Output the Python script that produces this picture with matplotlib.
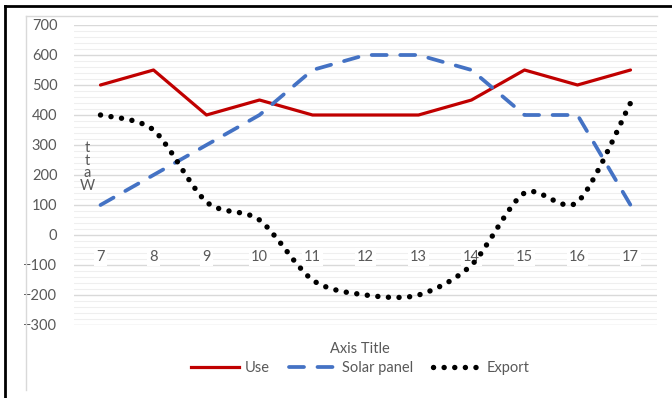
import matplotlib
matplotlib.use("Agg")
import matplotlib.pyplot as plt
from matplotlib.path import Path
from matplotlib.patches import PathPatch
from matplotlib.lines import Line2D
from matplotlib.ticker import MultipleLocator

# data
hours = [7, 8, 9, 10, 11, 12, 13, 14, 15, 16, 17]
use = [500, 550, 400, 450, 400, 400, 400, 450, 550, 500, 550]
solar = [100, 200, 300, 400, 550, 600, 600, 550, 400, 400, 100]
export = [400, 350, 110, 50, -150, -200, -200, -100, 140, 110, 440]

plt.rcParams['font.family'] = ['Lato', 'DejaVu Sans']
grey = '#595959'

fig = plt.figure(figsize=(6.72, 3.98), dpi=100)
ax = fig.add_axes([74 / 672, 1 - 325 / 398, 583 / 672, 300 / 398])

# use and solar lines
ax.plot(hours, use, color='#C00000', lw=2.3, solid_capstyle='round', zorder=3)
ax.plot(hours, solar, color='#4472C4', lw=2.7, dashes=(4, 3.6),
        dash_capstyle='round', zorder=3)

# smoothed export line (bezier through the points, like excel's smoothing)
verts = [(hours[0], export[0])]
codes = [Path.MOVETO]
n = len(hours)
k = 7.0
for i in range(n - 1):
    p0 = (hours[max(i - 1, 0)], export[max(i - 1, 0)])
    p1 = (hours[i], export[i])
    p2 = (hours[i + 1], export[i + 1])
    p3 = (hours[min(i + 2, n - 1)], export[min(i + 2, n - 1)])
    c1 = (p1[0] + (p2[0] - p0[0]) / k, p1[1] + (p2[1] - p0[1]) / k)
    c2 = (p2[0] - (p3[0] - p1[0]) / k, p2[1] - (p3[1] - p1[1]) / k)
    verts += [c1, c2, p2]
    codes += [Path.CURVE4] * 3
curve = PathPatch(Path(verts, codes), fill=False, edgecolor='black', lw=3.9,
                  linestyle=(0, (0.01, 1.95)), capstyle='round', zorder=3)
ax.add_patch(curve)

# axes setup
ax.set_xlim(6.5, 17.5)
ax.set_ylim(-300, 700)
ax.yaxis.set_major_locator(MultipleLocator(100))
ax.yaxis.set_minor_locator(MultipleLocator(20))
ax.grid(which='major', axis='y', color='#D9D9D9', lw=1)
ax.grid(which='minor', axis='y', color='#EFEFEF', lw=0.8)
ax.set_axisbelow(True)
ax.xaxis.set_zorder(1)  # x labels sit over the y gridlines
for s in ax.spines.values():
    s.set_visible(False)
ax.spines['bottom'].set_position(('data', 0))
ax.set_xticks(hours)
ax.set_xticklabels([str(h) for h in hours])
ax.tick_params(axis='x', length=0, pad=11, labelsize=10.5, colors=grey)
ax.tick_params(axis='y', which='both', length=0, pad=12, labelsize=10.5, colors=grey)
for lab in ax.get_xticklabels():
    lab.set_bbox(dict(facecolor='white', edgecolor='none', pad=1.5))

# stacked y label
fig.text(87 / 672, 1 - 167 / 398, 't\nt\na\nW', color=grey, fontsize=10.5,
         ha='center', va='center', linespacing=0.85)

fig.text(360 / 672, 1 - 349 / 398, 'Axis Title', color=grey, fontsize=10.5,
         ha='center', va='center')

handles = [
    Line2D([], [], color='#C00000', lw=2.3),
    Line2D([], [], color='#4472C4', lw=2.7, dashes=(4, 3.6), dash_capstyle='round'),
    Line2D([], [], color='black', lw=3.9, linestyle=(0, (0.01, 1.95)), dash_capstyle='round'),
]
fig.legend(handles, ['Use', 'Solar panel', 'Export'], loc='center',
           bbox_to_anchor=(360 / 672, 1 - 368 / 398), ncol=3, frameon=False,
           fontsize=10.5, handlelength=3.3, handletextpad=0.4, columnspacing=1.3,
           labelcolor=grey)

# chart frame lines
fig.add_artist(Line2D([5 / 672, 1], [1 - 6 / 398] * 2, color='black', lw=2))
fig.add_artist(Line2D([5 / 672] * 2, [0, 1 - 6 / 398], color='black', lw=2))
fig.add_artist(Line2D([26 / 672, 657 / 672], [1 - 16 / 398] * 2, color='#D9D9D9', lw=1))
fig.add_artist(Line2D([26 / 672] * 2, [1 - 390 / 398, 1 - 16 / 398], color='#D9D9D9', lw=1))

fig.savefig('out.png', dpi=100)
